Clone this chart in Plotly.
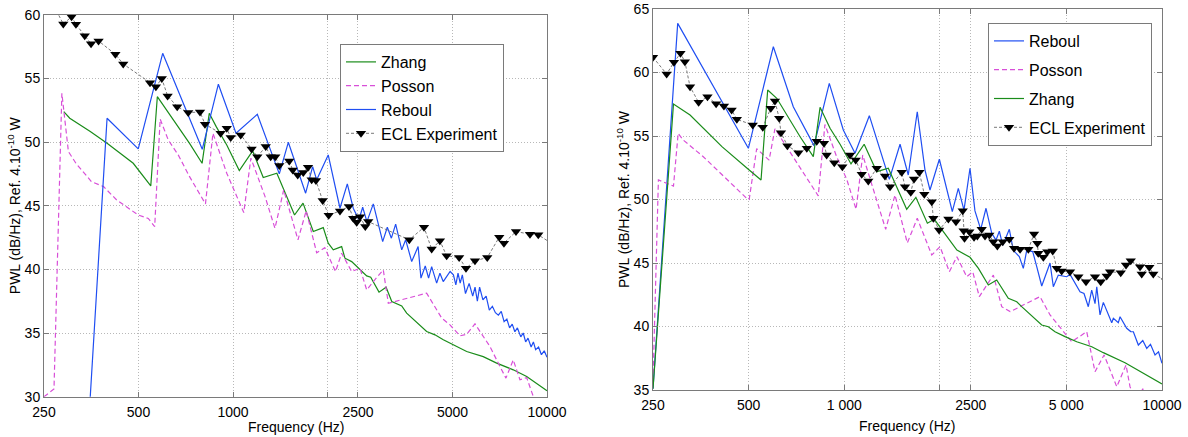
import math
import plotly.graph_objects as go

# ---------------- LEFT PANEL DATA ----------------
L_exp_f = [265, 288, 306, 316, 337, 353, 373, 422, 447, 544, 568, 593, 619, 664, 720, 785, 814, 913, 955, 983,
           1058, 1146, 1195, 1271, 1318, 1363, 1404, 1510, 1549, 1607, 1674, 1733, 1780, 1837, 1930, 2017, 2191,
           2340, 2415, 2476, 2537, 2638, 2695, 3642, 4057, 4292, 4560, 4791, 5250, 5520, 5897, 6452, 7046, 7292,
           7966, 8826, 9380, 10400]
L_exp_v = [61.0, 59.27, 59.84, 59.25, 58.35, 57.72, 57.94, 56.89, 56.13, 54.66, 54.35, 54.98, 53.62, 52.78, 52.31,
           52.36, 51.40, 50.69, 51.08, 50.35, 50.56, 49.46, 48.85, 49.64, 48.85, 48.85, 48.15, 48.52, 47.81, 47.42,
           47.60, 48.02, 47.03, 46.97, 45.40, 44.25, 44.59, 44.93, 44.02, 43.71, 44.14, 43.36, 43.75, 42.32, 43.31,
           41.59, 42.24, 41.06, 40.93, 40.09, 40.67, 40.93, 42.53, 42.06, 42.97, 42.76, 42.71, 42.0]

L_reb_f = [349, 397, 499, 597, 798, 898, 1022, 1195, 1404, 1500, 1703, 1793, 1847, 2010, 2191, 2312, 2415, 2517,
           2588, 2670, 2797, 2997, 3100, 3194, 3296, 3446, 3547, 3707, 3886, 3968, 4095, 4196, 4292, 4452, 4560,
           4672, 4914, 5034, 5124, 5207, 5291, 5374, 5500, 5650, 5800, 5900, 6000, 6100, 6250, 6400, 6550, 6700,
           6850, 7000, 7150, 7300, 7450, 7600, 7750, 7900, 8050, 8250, 8400, 8550, 8700, 8900, 9050, 9200, 9400,
           9600, 9800, 10000]
L_reb_v = [29.0, 51.87, 49.46, 56.97, 49.43, 54.54, 50.69, 52.18, 47.50, 49.98, 45.98, 48.07, 47.03, 48.99, 44.80,
           46.71, 44.8, 43.9, 44.88, 43.75, 45.14, 42.18, 43.31, 42.45, 43.55, 41.53, 42.32, 40.61, 41.79, 39.31,
           40.27, 39.31, 40.22, 38.92, 39.70, 39.04, 39.83, 39.57, 38.78, 39.70, 38.92, 39.57, 38.1, 38.9, 37.9,
           38.6, 37.5, 38.6, 37.6, 37.9, 36.8, 37.1, 36.6, 36.4, 36.7, 35.9, 36.1, 35.4, 35.7, 35.1, 35.4, 34.7,
           35.0, 34.3, 34.6, 33.9, 34.3, 33.7, 33.9, 33.3, 33.6, 33.1]

L_zha_f = [289, 302, 351, 397, 481, 547, 574, 647, 727, 797, 840, 884, 955, 1047, 1155, 1248, 1379, 1570, 1671,
           1801, 1938, 2010, 2086, 2218, 2272, 2387, 2568, 2665, 2745, 2917, 3072, 3203, 3446, 3573, 4137, 4397,
           4675, 5030, 5548, 6265, 6913, 7808, 8615, 10000]
L_zha_v = [52.39, 51.87, 50.82, 49.9, 48.33, 46.55, 53.56, 51.73, 49.9, 48.33, 52.26, 51.21, 49.77, 47.76, 49.30,
           47.21, 47.55, 44.27, 45.2, 42.97, 43.28, 42.06, 41.53, 41.79, 40.88, 40.61, 39.83, 39.49, 39.39, 38.21,
           38.6, 37.47, 37.13, 36.56, 35.12, 34.86, 34.47, 34.07, 33.55, 33.15, 32.64, 32.11, 31.59, 30.46]

L_pos_f = [250, 269, 285, 299, 316, 354, 387, 426, 499, 537, 563, 586, 622, 669, 727, 817, 863, 955, 1082, 1140,
           1265, 1360, 1450, 1610, 1710, 1847, 1960, 2120, 2218, 2387, 2537, 2665, 2832, 3010, 3123, 4137, 4620,
           4909, 5283, 5548, 5897, 6582, 7083, 7400, 7808, 8200, 8615, 9040, 9500]
L_pos_v = [30.0, 30.6, 53.83, 49.25, 48.33, 46.89, 46.5, 45.45, 44.27, 44.0, 43.36, 51.8, 50.16, 48.99, 47.28,
           45.14, 50.69, 47.55, 44.46, 48.73, 45.71, 43.23, 46.24, 42.32, 44.6, 41.3, 41.7, 39.83, 41.27, 39.83,
           40.09, 38.39, 39.2, 39.96, 37.34, 38.13, 36.17, 35.64, 34.78, 34.91, 35.72, 33.94, 32.37, 31.46, 32.89,
           31.33, 31.5, 30.0, 28.5]

# ---------------- RIGHT PANEL DATA ----------------
R_exp_f = [250, 276, 291, 305, 315, 327, 348, 371, 395, 418, 442, 459, 515, 554, 587, 605, 624, 632, 662, 717,
           762, 819, 863, 880, 930, 986, 1043, 1086, 1135, 1190, 1265, 1343, 1393, 1516, 1553, 1619, 1658, 1723,
           1786, 1885, 1907, 1988, 2126, 2247, 2359, 2375, 2390, 2475, 2561, 2623, 2707, 2773, 2860, 2945, 3032,
           3153, 3307, 3422, 3575, 3796, 3956, 4052, 4080, 4232, 4356, 4530, 4663, 4833, 5135, 5454, 5765, 6155,
           6415, 6698, 6862, 7416, 7705, 7973, 8529, 8633, 9122, 9388, 10300]
R_exp_v = [61.2, 59.88, 60.80, 61.51, 60.85, 58.88, 57.65, 58.09, 57.54, 57.36, 57.05, 56.31, 55.87, 55.69, 57.18,
           57.76, 56.39, 55.26, 54.24, 53.69, 54.03, 54.58, 54.42, 53.50, 52.90, 52.58, 53.50, 53.11, 51.98, 51.46,
           52.46, 51.85, 51.01, 52.14, 51.01, 50.57, 51.61, 52.14, 50.41, 49.83, 48.52, 47.60, 48.46, 48.25, 49.12,
           47.54, 46.94, 47.46, 47.02, 47.13, 47.65, 47.13, 47.20, 46.68, 46.34, 46.68, 46.87, 46.16, 46.08, 46.08,
           47.28, 46.55, 45.76, 45.45, 45.89, 45.94, 44.58, 44.37, 44.31, 43.92, 43.53, 43.92, 43.53, 43.98, 44.31,
           44.24, 44.84, 45.18, 44.71, 44.13, 44.66, 44.13, 43.6]

R_reb_f = [250, 299, 499, 598, 691, 803, 897, 993, 1081, 1199, 1386, 1498, 1590, 1697, 1795, 1861, 1992, 2101,
           2188, 2285, 2381, 2487, 2578, 2688, 2793, 2912, 3003, 3076, 3153, 3307, 3405, 3555, 3660, 3752, 3918,
           4034, 4183, 4442, 4550, 4716, 5012, 5135, 5521, 5682, 5862, 6008, 6155, 6232, 6382, 6537, 6698, 6947,
           7028, 7287, 7378, 7743, 7973, 8125, 8424, 8700, 8953, 9200, 9508, 9750, 10000]
R_reb_v = [35.1, 63.87, 54.03, 62.03, 57.31, 54.24, 59.15, 55.47, 53.64, 56.6, 51.59, 54.35, 51.93, 56.91, 52.32,
           50.75, 53.17, 50.75, 49.04, 50.88, 49.17, 52.46, 49.1, 47.65, 49.31, 47.34, 46.8, 47.5, 46.4, 47.65,
           46.0, 45.5, 44.58, 46.0, 45.9, 44.71, 43.19, 45.0, 43.13, 44.05, 43.92, 44.1, 42.74, 42.6, 41.56, 42.87,
           41.8, 43.13, 40.91, 41.9, 41.3, 40.30, 40.65, 40.3, 40.77, 39.86, 39.6, 39.59, 38.54, 38.9, 38.28, 38.6,
           37.76, 38.0, 37.1]

R_zha_f = [250, 290, 327, 364, 412, 502, 547, 574, 613, 726, 799, 839, 902, 970, 1050, 1155, 1265, 1376, 1479,
           1572, 1680, 1795, 1826, 1920, 2050, 2178, 2262, 2487, 2644, 2840, 3018, 3283, 3490, 3617, 4183, 4388,
           4605, 4952, 5391, 6012, 6537, 7650, 8735, 10000]
R_zha_v = [35.1, 57.52, 56.65, 55.47, 54.16, 52.32, 51.54, 58.62, 57.97, 54.94, 53.37, 57.26, 55.61, 54.35, 52.80,
           54.35, 52.19, 52.46, 50.75, 49.23, 50.17, 48.5, 48.13, 48.44, 47.5, 46.6, 46.02, 45.45, 44.58, 43.27,
           43.66, 42.22, 41.95, 41.56, 40.12, 39.98, 39.59, 39.20, 38.80, 38.41, 37.94, 37.15, 36.31, 35.47]

R_pos_f = [250, 260, 290, 300, 311, 360, 493, 502, 530, 580, 605, 628, 717, 828, 869, 946, 1018, 1089, 1143, 1220,
           1350, 1444, 1579, 1697, 1885, 2002, 2141, 2262, 2428, 2537, 2661, 2945, 3130, 3326, 3575, 4034, 4130,
           4442, 4716, 4952, 5197, 5795, 6155, 6572, 7205, 7705, 7930, 8300, 8700, 9200]
R_pos_v = [35.65, 51.54, 51.06, 55.21, 54.69, 53.37, 50.09, 50.01, 54.0, 53.1, 55.57, 54.94, 52.72, 50.29, 55.9,
           53.37, 51.59, 49.23, 53.50, 51.28, 47.65, 50.35, 46.58, 48.52, 45.63, 46.28, 44.31, 45.50, 43.92, 44.3,
           42.35, 44.05, 41.56, 41.17, 41.56, 42.22, 42.35, 40.91, 40.12, 39.46, 38.80, 39.59, 36.44, 37.76, 35.26,
           36.97, 35.26, 34.0, 35.1, 34.0]

tick_vals = [250, 500, 1000, 2500, 5000, 10000]
tick_text_left = ["250", "500", "1000", "2500", "5000", "10000"]
tick_text_right = ["250", "500", "1 000", "2500", "5 000", "10000"]
minor_vals = [2000]

BLUE = "#1f4ef2"
GREEN = "#1a8c1a"
MAG = "#d84fd8"
FONT = "Liberation Sans, Arial, sans-serif"
FRAME = "#7a7a7a"
GRID = "#b8b8b8"
GRIDDASH = "1px,2px"

W, H = 1188, 437
fig = go.Figure()


def add_traces(xa, ya, legend, order, data):
    for name in order:
        f, v = data[name]
        if name == "Reboul":
            kw = dict(mode="lines", line=dict(color=BLUE, width=1.2))
        elif name == "Zhang":
            kw = dict(mode="lines", line=dict(color=GREEN, width=1.2))
        elif name == "Posson":
            kw = dict(mode="lines", line=dict(color=MAG, width=1.2, dash="5px,3px"))
        else:
            kw = dict(mode="lines+markers", line=dict(color="#6a6a6a", width=0.9, dash="3px,2px"),
                      marker=dict(symbol="triangle-down", size=9, color="black"))
        fig.add_trace(go.Scatter(x=f, y=v, name=name, xaxis=xa, yaxis=ya, legend=legend,
                                 legendgroup=legend + name, **kw))


add_traces("x", "y", "legend", ["Zhang", "Posson", "Reboul", "ECL Experiment"],
           {"Zhang": (L_zha_f, L_zha_v), "Posson": (L_pos_f, L_pos_v),
            "Reboul": (L_reb_f, L_reb_v), "ECL Experiment": (L_exp_f, L_exp_v)})
add_traces("x2", "y2", "legend2", ["Reboul", "Posson", "Zhang", "ECL Experiment"],
           {"Zhang": (R_zha_f, R_zha_v), "Posson": (R_pos_f, R_pos_v),
            "Reboul": (R_reb_f, R_reb_v), "ECL Experiment": (R_exp_f, R_exp_v)})

axis_common = dict(showline=True, mirror="ticks", linecolor=FRAME, linewidth=1,
                   ticks="inside", ticklen=5, tickcolor=FRAME,
                   showgrid=True, gridcolor=GRID, griddash=GRIDDASH, gridwidth=1,
                   zeroline=False, automargin=False,
                   tickfont=dict(family=FONT, size=14, color="black"))
minor_x = dict(tickvals=minor_vals, ticks="inside", ticklen=5, tickcolor=FRAME,
               showgrid=True, gridcolor=GRID, griddash=GRIDDASH, gridwidth=1)

ytitle = dict(text="PWL (dB/Hz), Ref. 4.10<sup>-10</sup> W", font=dict(family=FONT, size=14, color="black"),
              standoff=0)

fig.update_layout(
    template="none",
    width=W, height=H, autosize=False,
    margin=dict(l=0, r=0, t=0, b=0),
    paper_bgcolor="white", plot_bgcolor="white",
    font=dict(family=FONT, size=14, color="black"),
    xaxis=dict(domain=[44 / W, 547 / W], type="log", range=[math.log10(250), math.log10(10000)],
               tickvals=tick_vals, ticktext=tick_text_left, anchor="y", minor=minor_x,
               ticklabelstandoff=2, **axis_common),
    yaxis=dict(domain=[1 - 396.7 / H, 1 - 14.7 / H], range=[30, 60], dtick=5, tick0=30,
               title=ytitle, anchor="x", **axis_common),
    xaxis2=dict(domain=[653 / W, 1162 / W], type="log", range=[math.log10(250), math.log10(10000)],
                tickvals=tick_vals, ticktext=tick_text_right, anchor="y2", minor=minor_x,
                ticklabelstandoff=2, **axis_common),
    yaxis2=dict(domain=[1 - 390 / H, 1 - 9 / H], range=[35, 65], dtick=5, tick0=35,
                title=ytitle, anchor="x2", **axis_common),
    legend=dict(x=340 / W, y=1 - 44 / H, xanchor="left", yanchor="top", bgcolor="white",
                bordercolor=FRAME, borderwidth=1, font=dict(family=FONT, size=16, color="black"),
                tracegroupgap=0, itemwidth=30),
    legend2=dict(x=988 / W, y=1 - 23 / H, xanchor="left", yanchor="top", bgcolor="white",
                 bordercolor=FRAME, borderwidth=1, font=dict(family=FONT, size=16, color="black"),
                 tracegroupgap=5, itemwidth=30),
    showlegend=True,
    annotations=[
        dict(text="Frequency (Hz)", xref="paper", yref="paper", x=295.5 / W, y=1 - 427 / H,
             xanchor="center", yanchor="middle", showarrow=False,
             font=dict(family=FONT, size=14, color="black")),
        dict(text="Frequency (Hz)", xref="paper", yref="paper", x=907.5 / W, y=1 - 426 / H,
             xanchor="center", yanchor="middle", showarrow=False,
             font=dict(family=FONT, size=14, color="black")),
    ],
)

fig.write_html("out.html", config={"displayModeBar": False},
               post_script="document.body.style.margin='0';document.body.style.overflow='hidden';")
